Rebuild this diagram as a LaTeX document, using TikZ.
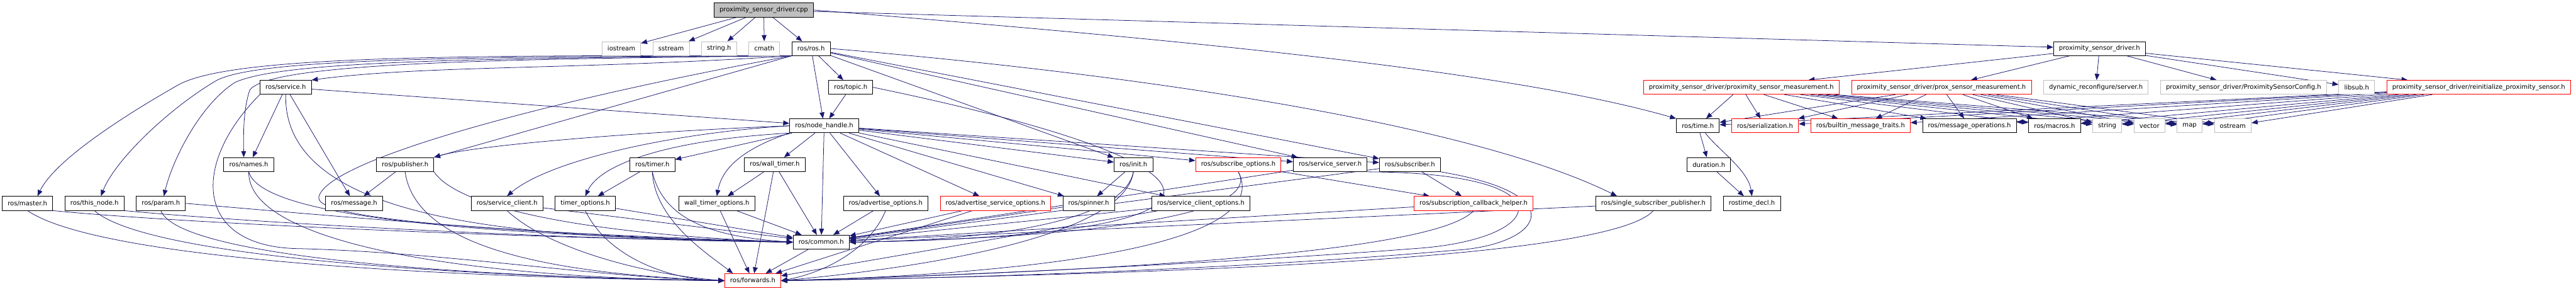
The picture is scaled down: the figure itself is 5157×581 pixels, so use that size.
\documentclass[tikz,border=0pt]{standalone}
\usepackage{fontspec}
\setmainfont{DejaVu Sans}
\usetikzlibrary{arrows.meta,positioning,calc,backgrounds}
\definecolor{midnight}{HTML}{191970}
\definecolor{extgray}{HTML}{BFBFBF}
\tikzset{
  hbox/.style={rectangle,draw=black,line width=0.6pt,fill=white,
               minimum height=0.56cm,inner xsep=6.2pt,inner ysep=0pt},
  extbox/.style={hbox,draw=extgray},
  cutbox/.style={hbox,draw=red},
  rootbox/.style={hbox,fill=extgray},
  dep/.style={-{Triangle[length=7pt,width=5.5pt]},draw=midnight,line width=0.55pt},
}
\begin{document}
\begin{tikzpicture}[x=0.02cm,y=-0.02cm,node distance=0.47cm,
    font=\fontsize{7.2}{8.6}\selectfont]
  \useasboundingbox (0,0) rectangle (5157,581);
  %% Row 1: the file itself
  \node[rootbox] (cpp) at (1529,20) {proximity\_sensor\_driver.cpp};
  %% Row 2
  \node[extbox] (iostream) at (1244,97) {iostream};
  \node[extbox,right=of iostream] (sstream) {sstream};
  \node[extbox,right=of sstream] (stringh) {string.h};
  \node[extbox,right=of stringh] (cmath) {cmath};
  \node[hbox,right=of cmath] (rosh) {ros/ros.h};
  \node[hbox] (psd) at (4203,97) {proximity\_sensor\_driver.h};
  %% Row 3
  \node[hbox] (service) at (572,174.5) {ros/service.h};
  \node[hbox] (topic) at (1703,174.5) {ros/topic.h};
  \node[cutbox] (meas) at (3486,174.5) {proximity\_sensor\_driver/proximity\_sensor\_measurement.h};
  \node[cutbox,right=of meas] (prox) {proximity\_sensor\_driver/prox\_sensor\_measurement.h};
  \node[extbox,right=of prox] (dynrec) {dynamic\_reconfigure/server.h};
  \node[extbox,right=of dynrec] (config) {proximity\_sensor\_driver/ProximitySensorConfig.h};
  \node[extbox,right=of config] (libsub) {libsub.h};
  \node[cutbox,right=of libsub] (reinit) {proximity\_sensor\_driver/reinitialize\_proximity\_sensor.h};
  %% Row 4
  \node[hbox] (nh) at (1650,251.5) {ros/node\_handle.h};
  \node[hbox] (time) at (3399,251.5) {ros/time.h};
  \node[cutbox,right=of time] (serial) {ros/serialization.h};
  \node[cutbox,right=of serial] (builtin) {ros/builtin\_message\_traits.h};
  \node[hbox,right=of builtin] (msgops) {ros/message\_operations.h};
  \node[hbox,right=of msgops] (macros) {ros/macros.h};
  \node[extbox,right=of macros] (stdstring) {string};
  \node[extbox,right=of stdstring] (vector) {vector};
  \node[extbox,right=of vector] (map) {map};
  \node[extbox,right=of map] (ostream) {ostream};
  %% Row 5
  \node[hbox] (names) at (498,329) {ros/names.h};
  \node[hbox] (pub) at (811,329) {ros/publisher.h};
  \node[hbox] (timer) at (1306,329) {ros/timer.h};
  \node[hbox] (walltimer) at (1551,329) {ros/wall\_timer.h};
  \node[hbox] (init) at (2269,329) {ros/init.h};
  \node[cutbox] (subopts) at (2479,329) {ros/subscribe\_options.h};
  \node[hbox,right=of subopts] (srvserver) {ros/service\_server.h};
  \node[hbox,right=of srvserver] (subscriber) {ros/subscriber.h};
  \node[hbox] (duration) at (3421,329) {duration.h};
  %% Row 6
  \node[hbox] (master) at (55,406.5) {ros/master.h};
  \node[hbox,right=of master] (thisnode) {ros/this\_node.h};
  \node[hbox,right=of thisnode] (param) {ros/param.h};
  \node[hbox] (message) at (709,406.5) {ros/message.h};
  \node[hbox] (srvclient) at (1015,406.5) {ros/service\_client.h};
  \node[hbox,right=of srvclient] (timeropts) {timer\_options.h};
  \node[hbox] (walltimeropts) at (1435,406.5) {wall\_timer\_options.h};
  \node[hbox] (advopts) at (1773,406.5) {ros/advertise\_options.h};
  \node[cutbox,right=of advopts] (advsrvopts) {ros/advertise\_service\_options.h};
  \node[hbox,right=of advsrvopts] (spinner) {ros/spinner.h};
  \node[hbox] (srvclientopts) at (2404,406.5) {ros/service\_client\_options.h};
  \node[cutbox] (helper) at (2950,406.5) {ros/subscription\_callback\_helper.h};
  \node[hbox] (ssp) at (3310,406.5) {ros/single\_subscriber\_publisher.h};
  \node[hbox,right=of ssp] (rostimedecl) {rostime\_decl.h};
  %% Rows 7 and 8
  \node[hbox] (common) at (1644,484) {ros/common.h};
  \node[cutbox] (forwards) at (1507,561) {ros/forwards.h};

  \begin{scope}[on background layer]
  %% straight includes
  \foreach \t in {iostream,sstream,stringh,cmath,rosh,psd}
    \draw[dep] (cpp) -- (\t);
  \draw[dep] (cpp.east) .. controls (2500,90) and (3050,150) .. (time.north west);
  \foreach \t in {meas,prox,dynrec,config,libsub,reinit}
    \draw[dep] (psd) -- (\t);
  \foreach \m in {meas,prox,reinit}{
    \foreach \t in {time,serial,builtin,msgops,macros,stdstring,vector,map,ostream}
      \draw[dep] (\m) -- (\t);
  }
  \draw[dep] (time) -- (duration);
  \draw[dep] ($(time.south)+(15,0)$) .. controls (3440,300) and (3500,340) .. (rostimedecl.north);
  \draw[dep] (duration) -- (rostimedecl);

  %% ros/ros.h
  \foreach \t in {topic,nh,init,srvserver,subscriber}
    \draw[dep] (rosh) -- (\t);
  \draw[dep] (rosh.east) .. controls (2300,150) and (2950,250) .. ($(ssp.north west)+(43,0)$);
  \draw[dep] (rosh.south west) -- (pub.north east);
  \draw[dep] (rosh.south west) .. controls (1150,140) and (850,130) .. (service.north east);
  \draw[dep] (rosh.south west) .. controls (900,110) and (470,112) .. (360,168)
    .. controls (250,230) and (110,320) .. ($(master.north)+(20,0)$);
  \draw[dep] (rosh.south west) .. controls (900,113) and (520,118) .. (435,160)
    .. controls (340,215) and (230,320) .. ($(thisnode.north)+(13,0)$);
  \draw[dep] (rosh.south west) .. controls (950,116) and (560,122) .. (470,165)
    .. controls (400,210) and (345,320) .. ($(param.north)+(6,0)$);
  \draw[dep] (rosh.south west) .. controls (1000,118) and (540,125) .. (500,180)
    .. controls (488,215) and (487,260) .. ($(names.north)+(-10,0)$);
  \draw[dep] (rosh.south west) .. controls (1100,200) and (650,320) .. (638,395)
    .. controls (635,450) and (1200,470) .. (common.west);
  \draw[dep] (topic) -- (nh);
  \draw[dep] (topic.east) .. controls (2500,330) and (2560,470) .. (common.east);

  %% ros/service.h
  \draw[dep] (service) -- (nh);
  \draw[dep] (service) -- ($(names.north)+(8,0)$);
  \draw[dep] (service) -- (message);
  \draw[dep] (service.south) .. controls (565,470) and (1150,475) .. (common.west);
  \draw[dep] (service.south west) .. controls (380,330) and (390,495) .. (600,497)
    .. controls (900,505) and (1200,555) .. (forwards.west);

  %% ros/node_handle.h
  \foreach \t in {timer,walltimer,common,advopts,advsrvopts,spinner,srvclientopts,init,subopts,srvserver,subscriber}
    \draw[dep] (nh) -- (\t);
  \draw[dep] (nh.west) .. controls (1300,262) and (950,290) .. (pub.north east);
  \draw[dep] (nh.west) .. controls (1350,265) and (1100,320) .. (srvclient.north);
  \draw[dep] (nh.south west) .. controls (1330,280) and (1200,330) .. (timeropts.north);
  \draw[dep] (nh.south west) .. controls (1480,300) and (1445,340) .. (walltimeropts.north);

  %% left hand headers
  \draw[dep] (names.south) .. controls (495,480) and (900,555) .. (forwards.west);
  \draw[dep] (names.south) .. controls (525,440) and (1000,470) .. (common.west);
  \draw[dep] (master.south) .. controls (200,520) and (900,555) .. (forwards.west);
  \draw[dep] (master.south east) .. controls (350,445) and (1000,475) .. (common.west);
  \draw[dep] (thisnode.south) .. controls (300,520) and (1000,555) .. (forwards.west);
  \draw[dep] (thisnode.south east) .. controls (500,445) and (1100,478) .. (common.west);
  \draw[dep] (param.south) .. controls (360,520) and (1000,555) .. (forwards.west);
  \draw[dep] (param.east) .. controls (700,435) and (1200,478) .. (common.west);
  \draw[dep] (pub) -- (message);
  \draw[dep] (pub.south) .. controls (830,480) and (1050,545) .. (forwards.west);
  \draw[dep] (pub.south east) .. controls (920,420) and (1200,470) .. (common.west);
  \draw[dep] (srvclient.south) .. controls (1100,500) and (1300,550) .. (forwards.west);
  \draw[dep] (timeropts.south) .. controls (1220,520) and (1350,560) .. (forwards.west);
  \draw[dep] (timer) -- (timeropts);
  \draw[dep] (timer.south) .. controls (1310,440) and (1420,510) .. ($(forwards.north west)+(17,0)$);
  \draw[dep] (timer.south) .. controls (1330,450) and (1450,475) .. (common.west);
  \draw[dep] (walltimer) -- (walltimeropts);
  \foreach \s in {srvclient,timeropts,walltimer,walltimeropts,advsrvopts,spinner,srvclientopts,subscriber,srvserver,helper,ssp}
    \draw[dep] (\s) -- (common);
  \foreach \s in {walltimer,walltimeropts,common,advsrvopts,srvclientopts}
    \draw[dep] (\s) -- (forwards);
  \draw[dep] (advopts) -- (common);
  \draw[dep] (advopts.south) .. controls (1740,500) and (1650,545) .. (forwards.east);

  %% right hand headers
  \draw[dep] (init) -- (spinner);
  \draw[dep] (init.south) .. controls (2250,440) and (2000,480) .. (common.east);
  \draw[dep] (init.south) .. controls (2250,480) and (1800,540) .. (forwards.east);
  \draw[dep] (subopts) -- (helper);
  \draw[dep] (subopts.south) .. controls (2540,450) and (2000,480) .. (common.east);
  \draw[dep] (subopts.south) .. controls (2560,500) and (2000,550) .. (forwards.east);
  \draw[dep] (subscriber) -- (helper);
  \draw[dep] (srvserver.south east) .. controls (3150,345) and (3100,480) .. (2830,497)
    .. controls (2400,530) and (1800,555) .. (forwards.east);
  \draw[dep] (subscriber.south east) .. controls (3160,390) and (3080,490) .. (2915,500)
    .. controls (2400,545) and (1800,558) .. (forwards.east);
  \draw[dep] (helper.south) .. controls (2880,500) and (2300,540) .. (forwards.east);
  \draw[dep] (ssp.south) .. controls (3230,510) and (2500,545) .. (forwards.east);
  \end{scope}
\end{tikzpicture}
\end{document}
